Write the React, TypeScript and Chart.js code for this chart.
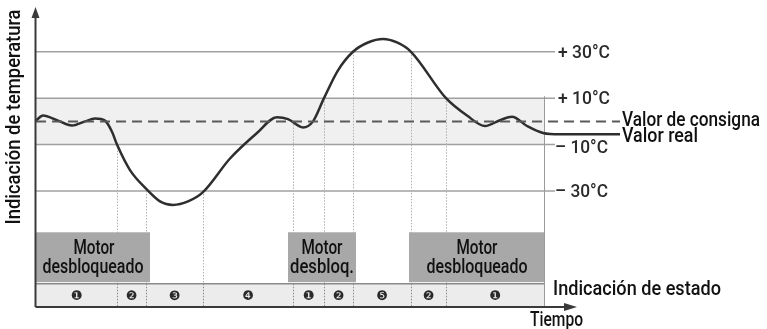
import { useEffect, useRef } from "react";
import { Chart, registerables } from "chart.js";

Chart.register(...registerables);

// ---- data ----
const timeValues = [0, 1.4, 4.2, 7.2, 9.8, 11.8, 13.8, 15.2, 16.2, 18.8, 22, 24.8, 27.4, 30.4, 33.4, 38.8, 44.2, 48.2, 50.4, 53.4, 55.4, 57.6, 60.4, 63.4, 66.4, 69.4, 72.2, 75, 82, 86.2, 89.8, 92.8, 95.2, 98.2, 101.4, 104.8, 116.8];
const actualValues = [0.4, 2.5, 0.5, -1.8, 0, 1.2, 0.3, -4.5, -10, -21, -29, -34.5, -36, -34.5, -30.5, -16, -5, 1.8, 1, -2.6, 0, 10, 22, 30, 34, 35.5, 34, 30, 10, 2.5, -2, 0.5, 2, -2, -5, -5.6, -5.6];
const setpointTimes = [0, 116.8];
const setpointValues = [0, 0];
const levelValues = [30, 10, -10, -30];
const levelLabels = ["+ 30°C", "+ 10°C", "– 10°C", "– 30°C"];
const bandRange = [-10, 10];
const stateBounds = [0, 16.2, 22, 33.4, 51.4, 57.6, 63.4, 75, 82, 101.6];
const stateLabels = ["❶", "❷", "❸", "❹", "❶", "❷", "❺", "❷", "❶"];
const dividerStarts = [-10, -30, -30, 0, 10, 30, 30, 10, 10];
const stateBarRange = [-80, -70];
const motorStarts = [0, 50.4, 74.6];
const motorEnds = [22.8, 64, 101.8];
const motorRange = [-69.3, -47.8];
const motorLabels = [["Motor", "desbloqueado"], ["Motor", "desbloq."], ["Motor", "desbloqueado"]];
const gridEnd = 103.8;

const FONT = "Roboto, 'DejaVu Sans Condensed', 'Liberation Sans', sans-serif";

function fitText(ctx: CanvasRenderingContext2D, text: string, x: number, y: number, width: number, align: "left" | "center") {
  const w = ctx.measureText(text).width;
  ctx.save();
  ctx.translate(align === "center" ? x - width / 2 : x, y);
  ctx.scale(width / w, 1);
  ctx.textAlign = "left";
  ctx.fillText(text, 0, 0);
  ctx.restore();
}

const diagramPlugin = {
  id: "diagram",
  beforeDatasetsDraw(chart: any) {
    const { ctx, scales } = chart;
    const X = (v: number) => scales.x.getPixelForValue(v);
    const Y = (v: number) => scales.y.getPixelForValue(v);
    ctx.save();
    // tolerance band
    ctx.fillStyle = "#f0f0f0";
    ctx.fillRect(X(0), Y(bandRange[1]), X(stateBounds[stateBounds.length - 1]) - X(0), Y(bandRange[0]) - Y(bandRange[1]));
    // level lines
    ctx.strokeStyle = "#a0a0a0";
    ctx.lineWidth = 1.5;
    levelValues.forEach((v) => {
      ctx.beginPath();
      ctx.moveTo(X(0), Y(v));
      ctx.lineTo(X(gridEnd), Y(v));
      ctx.stroke();
    });
    // divider lines (upper)
    ctx.strokeStyle = "#b0b0b0";
    ctx.lineWidth = 1;
    ctx.setLineDash([1.5, 1.5]);
    stateBounds.slice(1).forEach((t, i) => {
      const px = Math.round(X(t)) + 0.5;
      ctx.beginPath();
      ctx.moveTo(px, Y(dividerStarts[i]));
      ctx.lineTo(px, Y(stateBarRange[1]));
      ctx.stroke();
    });
    ctx.setLineDash([]);
    // motor boxes
    ctx.fillStyle = "#a8a8a8";
    motorStarts.forEach((s, i) => {
      const x0 = X(s), x1 = X(motorEnds[i]);
      const y0 = Y(motorRange[1]), y1 = Y(motorRange[0]);
      ctx.fillRect(x0, y0, x1 - x0, y1 - y0);
    });
    ctx.fillStyle = "#111";
    ctx.font = `500 20px ${FONT}`;
    ctx.textBaseline = "middle";
    motorStarts.forEach((s, i) => {
      const cx = (X(s) + X(motorEnds[i])) / 2;
      const yTop = Y(motorRange[1]);
      const [l1, l2] = motorLabels[i];
      fitText(ctx, l1, cx + (i === 0 ? 1 : 0), yTop + 17, 41, "center");
      fitText(ctx, l2, cx, yTop + 36, l2.length > 9 ? 101 : 64, "center");
    });
    // state bar
    const by0 = Y(stateBarRange[1]), by1 = Y(stateBarRange[0]);
    const bx0 = X(0), bx1 = X(stateBounds[stateBounds.length - 1]);
    ctx.fillStyle = "#ececec";
    ctx.fillRect(bx0, by0, bx1 - bx0, by1 - by0);
    ctx.strokeStyle = "#8a8a8a";
    ctx.lineWidth = 1.5;
    ctx.beginPath();
    ctx.moveTo(bx0, by0);
    ctx.lineTo(bx1, by0);
    ctx.stroke();
    ctx.beginPath();
    ctx.moveTo(Math.round(bx1) + 0.5, Y(bandRange[1]) - 2);
    ctx.lineTo(Math.round(bx1) + 0.5, by1);
    ctx.strokeStyle = "#9a9a9a";
    ctx.lineWidth = 1;
    ctx.stroke();
    ctx.strokeStyle = "#8a8a8a";
    ctx.setLineDash([1.5, 1.5]);
    stateBounds.slice(1, -1).forEach((t) => {
      const px = Math.round(X(t)) + 0.5;
      ctx.beginPath();
      ctx.moveTo(px, by0);
      ctx.lineTo(px, by1);
      ctx.stroke();
    });
    ctx.setLineDash([]);
    ctx.fillStyle = "#2a2a2a";
    ctx.font = "13px 'DejaVu Sans', sans-serif";
    ctx.textAlign = "center";
    stateLabels.forEach((lab, i) => {
      const cx = (X(stateBounds[i]) + X(stateBounds[i + 1])) / 2;
      ctx.fillText(lab, cx, (by0 + by1) / 2 + 1);
    });
    ctx.restore();
  },
  afterDatasetsDraw(chart: any) {
    const { ctx, scales } = chart;
    const X = (v: number) => scales.x.getPixelForValue(v);
    const Y = (v: number) => scales.y.getPixelForValue(v);
    ctx.save();
    const ax = X(0) - 0.5;
    const ay = Y(stateBarRange[0]);
    // axes
    ctx.strokeStyle = "#3a3a3a";
    ctx.fillStyle = "#3a3a3a";
    ctx.lineWidth = 2;
    ctx.beginPath();
    ctx.moveTo(ax, ay);
    ctx.lineTo(ax, 16);
    ctx.stroke();
    ctx.beginPath();
    ctx.moveTo(ax, 7);
    ctx.lineTo(ax - 4, 18);
    ctx.lineTo(ax + 4, 18);
    ctx.closePath();
    ctx.fill();
    ctx.beginPath();
    ctx.moveTo(ax, ay);
    ctx.lineTo(566, ay);
    ctx.stroke();
    ctx.beginPath();
    ctx.moveTo(577, ay);
    ctx.lineTo(564, ay - 4);
    ctx.lineTo(564, ay + 4);
    ctx.closePath();
    ctx.fill();
    // level labels
    ctx.fillStyle = "#2a2a2a";
    ctx.font = `500 19px ${FONT}`;
    ctx.textBaseline = "middle";
    levelLabels.forEach((lab, i) => {
      const isNeg = lab.startsWith("–");
      fitText(ctx, lab, isNeg ? 555 : 558, Y(levelValues[i]) + (i === 2 ? 4 : 1), isNeg ? 53 : 52, "left");
    });
    // right labels
    ctx.fillStyle = "#111";
    ctx.font = `500 20px ${FONT}`;
    fitText(ctx, "Valor de consigna", 622, 121, 138, "left");
    fitText(ctx, "Valor real", 622, 137, 76, "left");
    fitText(ctx, "Indicación de estado", 553, 290, 168, "left");
    fitText(ctx, "Tiempo", 530, 321, 53, "left");
    // y title
    ctx.save();
    ctx.translate(15, 117);
    ctx.rotate(-Math.PI / 2);
    fitText(ctx, "Indicación de temperatura", 0, 0, 215, "center");
    ctx.restore();
    ctx.restore();
  },
};

export default function App() {
  const ref = useRef<HTMLCanvasElement>(null);
  useEffect(() => {
    if (!ref.current) return;
    const chart = new Chart(ref.current, {
      type: "line",
      data: {
        datasets: [
          {
            label: "Valor de consigna",
            data: setpointTimes.map((t, i) => ({ x: t, y: setpointValues[i] })),
            borderColor: "#5a5a5a",
            borderWidth: 2,
            borderDash: [10, 6],
            pointRadius: 0,
          },
          {
            label: "Valor real",
            data: timeValues.map((t, i) => ({ x: t, y: actualValues[i] })),
            borderColor: "#2e2e2e",
            borderWidth: 2.5,
            pointRadius: 0,
            cubicInterpolationMode: "monotone",
          },
        ],
      },
      options: {
        animation: false,
        responsive: false,
        events: [],
        layout: { padding: { left: 36, top: 10, right: 146, bottom: 22 } },
        plugins: { legend: { display: false }, tooltip: { enabled: false } },
        scales: {
          x: { type: "linear", min: 0, max: 117, display: false },
          y: { type: "linear", min: -80, max: 48, display: false },
        },
      },
      plugins: [diagramPlugin],
    });
    return () => chart.destroy();
  }, []);
  return (
    <div style={{ position: "absolute", left: 0, top: 0, width: 767, height: 329, background: "#fff" }}>
      <canvas ref={ref} width={767} height={329} style={{ width: 767, height: 329, display: "block" }} />
    </div>
  );
}
